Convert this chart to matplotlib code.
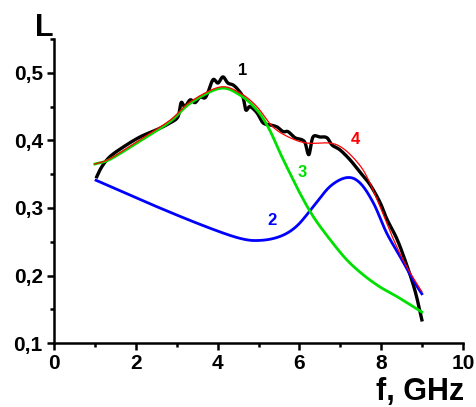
import matplotlib
matplotlib.use("Agg")
import matplotlib.pyplot as plt
import numpy as np
from matplotlib.ticker import MultipleLocator

plt.rcParams['font.family'] = ['Liberation Sans', 'DejaVu Sans']
plt.rcParams['font.weight'] = 'bold'

# curve 1 - measured (black)
f1 = [1.03, 1.17, 1.37, 1.69, 2.10, 2.52, 2.84, 3.03, 3.11, 3.20, 3.33, 3.45, 3.57,
      3.69, 3.77, 3.89, 4.01, 4.13, 4.25, 4.38, 4.50, 4.62, 4.69, 4.79, 4.96, 5.11,
      5.28, 5.45, 5.60, 5.72, 5.89, 6.06, 6.14, 6.23, 6.33, 6.50, 6.67, 6.80, 6.99,
      7.24, 7.48, 7.73, 7.97, 8.14, 8.39, 8.63, 8.83, 9.00]
L1 = [0.344, 0.361, 0.376, 0.390, 0.405, 0.416, 0.426, 0.435, 0.456, 0.450, 0.460,
      0.456, 0.464, 0.463, 0.472, 0.490, 0.485, 0.494, 0.485, 0.482, 0.475, 0.464,
      0.445, 0.450, 0.441, 0.426, 0.423, 0.420, 0.413, 0.413, 0.404, 0.401, 0.396,
      0.379, 0.405, 0.405, 0.404, 0.393, 0.386, 0.371, 0.353, 0.334, 0.308, 0.283,
      0.253, 0.214, 0.176, 0.132]

# curve 2 (blue)
f2 = [1.03, 2.51, 3.73, 4.55, 5.04, 5.53, 5.93, 6.34, 6.75, 7.16, 7.48, 7.81, 8.13,
      8.46, 8.78, 8.99]
L2 = [0.341, 0.302, 0.272, 0.255, 0.252, 0.258, 0.273, 0.302, 0.332, 0.345, 0.337,
      0.307, 0.263, 0.228, 0.193, 0.173]

# curve 3 (green)
f3 = [1.0, 1.37, 2.10, 2.84, 3.33, 4.06, 4.55, 4.96, 5.25, 5.53, 5.77, 6.01, 6.34,
      6.75, 7.16, 7.56, 7.97, 8.38, 8.99]
L3 = [0.365, 0.372, 0.399, 0.428, 0.455, 0.477, 0.467, 0.445, 0.418, 0.381, 0.351,
      0.322, 0.287, 0.253, 0.223, 0.201, 0.183, 0.169, 0.146]

# curve 4 (red)
f4 = [1.0, 1.37, 2.10, 2.84, 3.33, 4.06, 4.55, 4.96, 5.35, 5.77, 6.19, 6.75, 7.07,
      7.41, 7.65, 7.97, 8.30, 8.62, 8.99]
L4 = [0.365, 0.373, 0.401, 0.430, 0.457, 0.479, 0.470, 0.450, 0.420, 0.404, 0.396,
      0.396, 0.388, 0.368, 0.346, 0.302, 0.253, 0.213, 0.176]

xticks = [0, 2, 4, 6, 8, 10]
yticks = [0.1, 0.2, 0.3, 0.4, 0.5]
ylabels = ['0,1', '0,2', '0,3', '0,4', '0,5']


def smooth(x, y):
    # Catmull-Rom through the read points
    x = np.asarray(x, float)
    y = np.asarray(y, float)
    px = np.concatenate([[2 * x[0] - x[1]], x, [2 * x[-1] - x[-2]]])
    py = np.concatenate([[2 * y[0] - y[1]], y, [2 * y[-1] - y[-2]]])
    ox, oy = [], []
    t = np.linspace(0, 1, 12, endpoint=False)
    for i in range(1, len(px) - 2):
        for arr, out in ((px, ox), (py, oy)):
            p0, p1, p2, p3 = arr[i - 1], arr[i], arr[i + 1], arr[i + 2]
            out.extend(0.5 * (2 * p1 + (-p0 + p2) * t + (2 * p0 - 5 * p1 + 4 * p2 - p3) * t ** 2
                              + (-p0 + 3 * p1 - 3 * p2 + p3) * t ** 3))
    ox.append(x[-1])
    oy.append(y[-1])
    return ox, oy


fig = plt.figure(figsize=(4.77, 4.07), dpi=100)
ax = fig.add_axes([0.113, 0.157, 0.858, 0.747])

ax.plot(*smooth(f1, L1), color='black', lw=2.4, solid_capstyle='butt')
ax.plot(*smooth(f2, L2), color='#0000ff', lw=2.0)
ax.plot(*smooth(f3, L3), color='#00e000', lw=2.0)
ax.plot(*smooth(f4, L4), color='#ff0000', lw=0.9)

ax.text(4.62, 0.504, '1', color='black', fontsize=12, fontweight='bold', ha='center', va='center')
ax.text(5.33, 0.282, '2', color='#0000ff', fontsize=12, fontweight='bold', ha='center', va='center')
ax.text(6.06, 0.352, '3', color='#00e000', fontsize=12, fontweight='bold', ha='center', va='center')
ax.text(7.36, 0.401, '4', color='#ff0000', fontsize=12, fontweight='bold', ha='center', va='center')

ax.set_xlim(0, 10)
ax.set_ylim(0.1, 0.55)
ax.set_xticks(xticks)
ax.set_yticks(yticks)
ax.set_yticklabels(ylabels)
ax.xaxis.set_minor_locator(MultipleLocator(1))
ax.yaxis.set_minor_locator(MultipleLocator(0.05))
ax.spines['top'].set_visible(False)
ax.spines['right'].set_visible(False)
ax.spines['left'].set_linewidth(1.8)
ax.spines['bottom'].set_linewidth(1.8)
ax.tick_params(which='major', direction='out', length=5, width=1.8, labelsize=15, pad=3)
ax.tick_params(which='minor', direction='out', length=3, width=1.8)
for lab in ax.get_xticklabels() + ax.get_yticklabels():
    lab.set_fontweight('bold')

fig.text(44 / 477, 1 - 28 / 407, 'L', fontsize=22, fontweight='bold', ha='center', va='center')
fig.text(420 / 477, 1 - 392 / 407, 'f, GHz', fontsize=22, fontweight='bold', ha='center', va='center')

fig.savefig('out.png', dpi=100)
